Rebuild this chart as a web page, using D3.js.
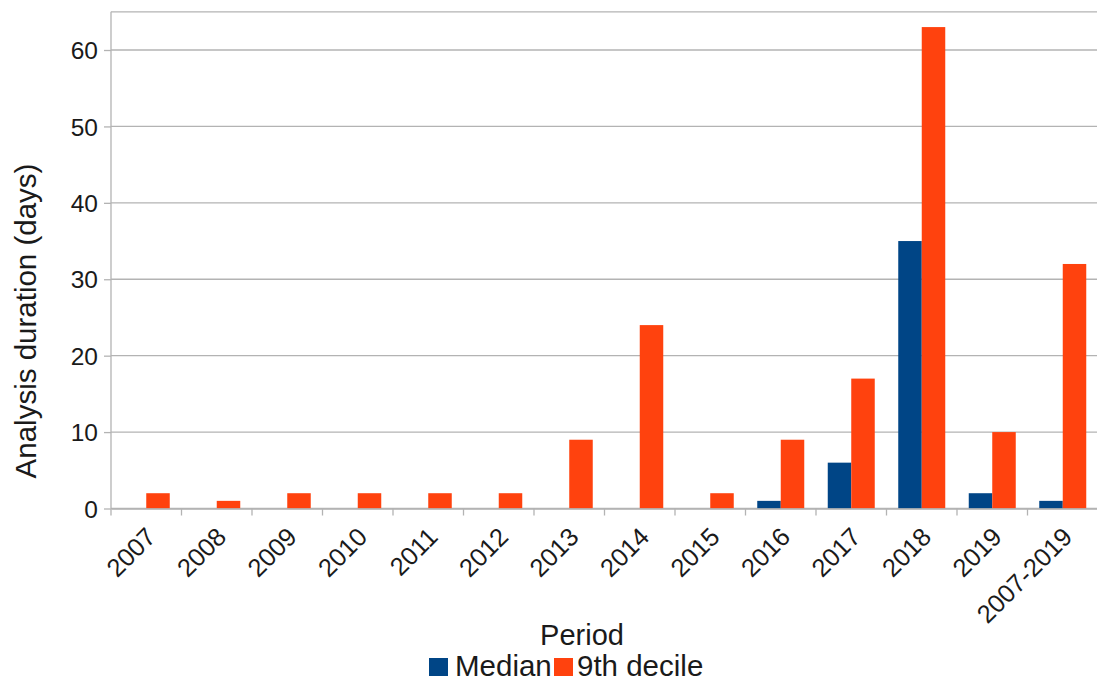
<!DOCTYPE html>
<html><head><meta charset="utf-8">
<script src="https://cdn.jsdelivr.net/npm/d3@7"></script>
<style>body{margin:0;background:#fff}svg{display:block}text{font-family:"Liberation Sans",Arial,sans-serif;fill:#1a1a1a}</style>
</head><body>
<svg id="c" width="1097" height="683"></svg>
<script>
const categories = ["2007","2008","2009","2010","2011","2012","2013","2014","2015","2016","2017","2018","2019","2007-2019"];
const median = [0,0,0,0,0,0,0,0,0,1,6,35,2,1];
const decile9 = [2,1,2,2,2,2,9,24,2,9,17,63,10,32];
const seriesNames = ["Median","9th decile"];
const yTicks = [0,10,20,30,40,50,60];
const colors = ["#004586","#ff420e"];

const svg = d3.select("#c");
const L=111, R=1098, T=11.8, B=508.5;
const x = d3.scaleBand().domain(categories).range([L,R]);
const y = d3.scaleLinear().domain([0,65]).range([B,T]);
const xs = d3.scaleBand().domain(seriesNames).range([0,x.bandwidth()]).paddingOuter(0.5).paddingInner(0);

// grid
svg.append("g").selectAll("line").data(yTicks.concat([65])).join("line")
  .attr("x1",L).attr("x2",R).attr("y1",d=>y(d)).attr("y2",d=>y(d))
  .attr("stroke","#b3b3b3").attr("stroke-width",1.3);

// bars
const data = [median, decile9];
data.forEach((vals,si)=>{
  svg.append("g").selectAll("rect").data(vals).join("rect")
    .attr("x",(d,i)=>x(categories[i])+xs(seriesNames[si]))
    .attr("width",xs.bandwidth())
    .attr("y",d=>y(d)).attr("height",d=>B-y(d))
    .attr("fill",colors[si]);
});

// y axis
const ya = svg.append("g").attr("transform",`translate(${L},0)`)
  .call(d3.axisLeft(y).tickValues(yTicks).tickSize(7).tickPadding(6));
ya.select(".domain").attr("stroke","#b3b3b3").attr("stroke-width",1.3).attr("d",`M0,${T}V${B}`);
ya.selectAll(".tick line").attr("stroke","#b3b3b3").attr("stroke-width",1.3);
ya.selectAll(".tick text").style("font-size","24.5px").attr("fill","#1a1a1a").attr("dy","0.35em");

// x axis
const xa = svg.append("g").attr("transform",`translate(0,${B})`)
  .call(d3.axisBottom(x).tickSize(0).tickPadding(0));
xa.select(".domain").attr("stroke","#b3b3b3").attr("stroke-width",1.3);
xa.selectAll(".tick text").style("font-size","25.5px").attr("fill","#1a1a1a")
  .attr("text-anchor","end").attr("dy",0)
  .attr("transform","translate(11,30) rotate(-45)");
// boundary ticks
svg.append("g").selectAll("line").data(categories.concat([null])).join("line")
  .attr("x1",(d,i)=>L+i*x.step()).attr("x2",(d,i)=>L+i*x.step())
  .attr("y1",B).attr("y2",B+7).attr("stroke","#b3b3b3").attr("stroke-width",1.3);

// titles
svg.append("text").attr("transform",`translate(36,321) rotate(-90)`)
  .attr("text-anchor","middle").style("font-size","29.5px").text("Analysis duration (days)");
svg.append("text").attr("x",582).attr("y",645).attr("text-anchor","middle")
  .style("font-size","29px").text("Period");

// legend
const leg = [{n:seriesNames[0],c:colors[0],sx:429,tx:455},{n:seriesNames[1],c:colors[1],sx:554,tx:577}];
leg.forEach(l=>{
  svg.append("rect").attr("x",l.sx).attr("y",658).attr("width",19).attr("height",18).attr("fill",l.c);
  svg.append("text").attr("x",l.tx).attr("y",676).style("font-size","29.5px").text(l.n);
});
</script>
</body></html>
